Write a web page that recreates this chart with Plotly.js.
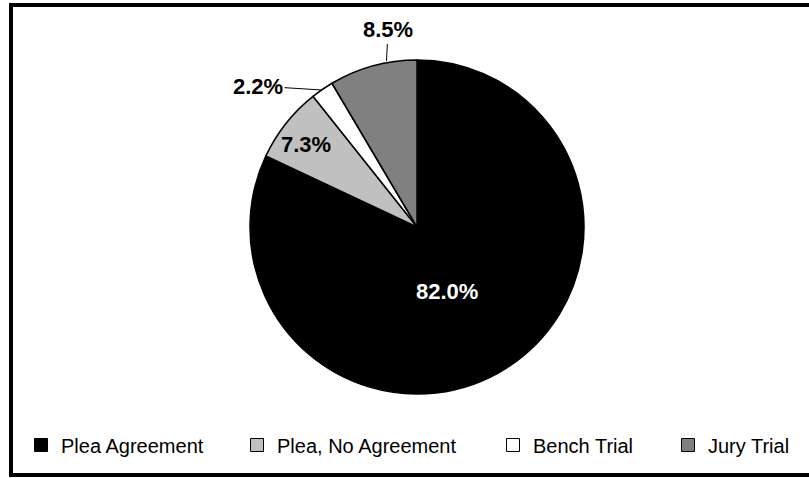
<!DOCTYPE html>
<html>
<head>
<meta charset="utf-8">
<script src="https://cdn.plot.ly/plotly-3.0.1.min.js"></script>
<style>html,body{margin:0;padding:0;background:#fff;}#chart{width:809px;height:478px;}</style>
</head>
<body>
<div id="chart"></div>
<script>
// ---- data ----
var categories = ["Plea Agreement", "Plea, No Agreement", "Bench Trial", "Jury Trial"];
var shares = [82.0, 7.3, 2.2, 8.5];
var sliceColors = ["#000000", "#C0C0C0", "#FFFFFF", "#808080"];

var W = 809, H = 478;
function px(x) { return x / W; }
function py(y) { return 1 - y / H; }
function pct(v) { return v.toFixed(1) + "%"; }

var FONT = "Liberation Sans, Arial, sans-serif";

// pie geometry (center 417,227 ; radius 167)
var cx = 417, cy = 227, R = 167;

var pie = {
  type: "pie",
  labels: categories,
  values: shares,
  sort: false,
  direction: "clockwise",
  rotation: 0,
  textinfo: "none",
  hoverinfo: "label+percent",
  showlegend: false,
  marker: { colors: sliceColors, line: { color: "#000000", width: 1.5 } },
  domain: { x: [px(cx - R), px(cx + R)], y: [py(cy + R), py(cy - R)] }
};

// legend entries (one legend per entry to match spacing)
var legendNames = ["legend", "legend2", "legend3", "legend4"];
var legendTextX = [61, 277, 533, 708];
var traces = [pie];
categories.forEach(function (c, i) {
  traces.push({
    type: "scatter", mode: "markers", x: [null], y: [null], name: c,
    legend: legendNames[i],
    marker: { symbol: "square", size: 13, color: sliceColors[i], line: { color: "#000000", width: 1 } },
    hoverinfo: "skip"
  });
});

function frameLine(x0, y0, x1, y1) {
  return { type: "line", xref: "paper", yref: "paper", x0: px(x0), y0: py(y0), x1: px(x1), y1: py(y1),
           line: { color: "#000000", width: 4 }, layer: "above" };
}

var layout = {
  width: W, height: H, autosize: false,
  margin: { l: 0, r: 0, t: 0, b: 0, pad: 0 },
  paper_bgcolor: "#ffffff", plot_bgcolor: "#ffffff",
  font: { family: FONT, color: "#000000" },
  xaxis: { visible: false }, yaxis: { visible: false },
  hovermode: false,
  annotations: [],
  shapes: [
    frameLine(11, 3, 11, 477),
    frameLine(9, 5, 809, 5),
    frameLine(9, 475, 809, 475)
  ]
};

legendNames.forEach(function (ln, i) {
  layout[ln] = {
    orientation: "h", x: px(legendTextX[i] - 40), xanchor: "left",
    y: py(445), yanchor: "middle",
    font: { family: FONT, size: 20, color: "#000000" },
    bgcolor: "rgba(0,0,0,0)", borderwidth: 0
  };
});

// data labels
layout.annotations.push({
  xref: "paper", yref: "paper", x: px(447), y: py(291), text: "<b>" + pct(shares[0]) + "</b>",
  showarrow: false, font: { family: FONT, size: 22, color: "#ffffff" }
});
layout.annotations.push({
  xref: "paper", yref: "paper", x: px(306), y: py(130), text: "<b>" + pct(shares[1]) + "</b>",
  showarrow: false, font: { family: FONT, size: 22, color: "#000000" }
});
layout.annotations.push({
  xref: "paper", yref: "paper", x: px(322), y: py(90), text: "<b>" + pct(shares[2]) + "</b>",
  showarrow: true, arrowhead: 0, arrowwidth: 1, arrowcolor: "#000000", standoff: 0,
  ax: 258 - 322, ay: 86 - 90, font: { family: FONT, size: 22, color: "#000000" }
});
layout.annotations.push({
  xref: "paper", yref: "paper", x: px(386.5), y: py(61), text: "<b>" + pct(shares[3]) + "</b>",
  showarrow: true, arrowhead: 0, arrowwidth: 1, arrowcolor: "#000000", standoff: 0,
  ax: 388 - 386.5, ay: 30 - 61, font: { family: FONT, size: 22, color: "#000000" }
});

Plotly.newPlot("chart", traces, layout, { displayModeBar: false, staticPlot: true });
</script>
</body>
</html>
